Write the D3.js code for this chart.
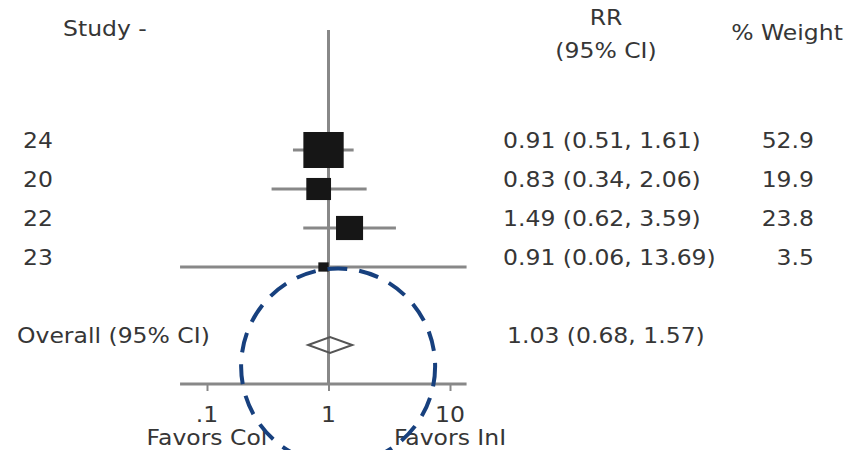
<!DOCTYPE html>
<html>
<head>
<meta charset="utf-8">
<script src="https://cdn.jsdelivr.net/npm/d3@7"></script>
<style>
  body { margin: 0; background: #fff; }
  text { font-family: "DejaVu Sans", sans-serif; fill: #363636; }
</style>
</head>
<body>
<div id="chart"></div>
<script>
const width = 868;
const height = 450;
const stretch = 1.12; // the source picture is a little wider than tall

// data
const studies = ["24", "20", "22", "23"];
const rr = [0.91, 0.83, 1.49, 0.91];
const lo = [0.51, 0.34, 0.62, 0.06];
const hi = [1.61, 2.06, 3.59, 13.69];
const weight = [52.9, 19.9, 23.8, 3.5];
const overall = {label: "Overall (95% CI)", rr: 1.03, lo: 0.68, hi: 1.57};
const tickValues = [0.1, 1, 10];
const tickLabels = [".1", "1", "10"];
const favors = ["Favors Col", "Favors InI"];

const fmt = d3.format(".2f");

const x = d3.scaleLog().domain([0.1, 10]).range([207, 450]);
// row index -> y
const y = d3.scaleLinear().domain([0, 3]).range([150, 267]);
const size = d3.scaleSqrt().domain([0, 52.9]).range([0, 36]);

const svg = d3.select("#chart").append("svg").attr("width", width).attr("height", height);

function label(str, px, py, anchor) {
    return svg.append("text")
        .attr("transform", `translate(${px},${py}) scale(${stretch},1)`)
        .attr("text-anchor", anchor || "start")
        .style("font-size", "21px")
        .text(str);
}

const grey = "#888";
const axisY = y(6);

//null line at 1
svg.append("line")
    .attr("x1", x(1)).attr("x2", x(1))
    .attr("y1", 30).attr("y2", axisY)
    .attr("stroke", grey).attr("stroke-width", 3);

// axis
const xAxis = d3.axisBottom(x)
    .tickValues(tickValues)
    .tickFormat((d, i) => tickLabels[i])
    .tickSize(7)
    .tickPadding(5);

const ax = svg.append("g")
    .attr("transform", `translate(0,${axisY})`)
    .call(xAxis);
ax.select(".domain").remove();
ax.selectAll(".tick line").attr("stroke", grey).attr("stroke-width", 2);
ax.selectAll(".tick text").remove();
tickValues.forEach((v, i) => label(tickLabels[i], x(v), axisY + 38, "middle"));

svg.append("line")
    .attr("x1", x(d3.min(lo))).attr("x2", x(d3.max(hi)))
    .attr("y1", axisY).attr("y2", axisY)
    .attr("stroke", grey).attr("stroke-width", 3);

// CI lines
svg.selectAll(".ci")
    .data(studies)
    .join("line")
    .attr("class", "ci")
    .attr("x1", (d, i) => x(lo[i]))
    .attr("x2", (d, i) => x(hi[i]))
    .attr("y1", (d, i) => y(i))
    .attr("y2", (d, i) => y(i))
    .attr("stroke", grey).attr("stroke-width", 3);

// boxes, area ~ weight
svg.selectAll(".box")
    .data(studies)
    .join("rect")
    .attr("class", "box")
    .attr("x", (d, i) => x(rr[i]) - size(weight[i]) * stretch / 2)
    .attr("y", (d, i) => y(i) - size(weight[i]) / 2)
    .attr("width", (d, i) => size(weight[i]) * stretch)
    .attr("height", (d, i) => size(weight[i]))
    .attr("fill", "#161616");

// overall diamond
const oy = y(5);
svg.append("path")
    .attr("d", `M${x(overall.lo)},${oy} L${x(overall.rr)},${oy - 8} L${x(overall.hi)},${oy} L${x(overall.rr)},${oy + 8} Z`)
    .attr("fill", "none")
    .attr("stroke", "#555")
    .attr("stroke-width", 2);

// headers
label("Study -", 63, 36);
label("RR", 606, 25, "middle");
label("(95% CI)", 606, 58, "middle");
label("% Weight", 787, 40, "middle");

// rows
studies.forEach((s, i) => {
    label(s, 23, y(i) - 2);
    label(`${fmt(rr[i])} (${fmt(lo[i])}, ${fmt(hi[i])})`, 503, y(i) - 2);
    label(weight[i].toFixed(1), 814, y(i) - 2, "end");
});
label(overall.label, 17, oy - 2);
label(`${fmt(overall.rr)} (${fmt(overall.lo)}, ${fmt(overall.hi)})`, 507, oy - 2);

// favors labels under the outer ticks
label(favors[0], x(0.1), 445, "middle");
label(favors[1], x(10), 445, "middle");

// dashed circle annotation
svg.append("ellipse")
    .attr("cx", x(1.2))
    .attr("cy", y(5.55))
    .attr("rx", 97)
    .attr("ry", 98)
    .attr("fill", "none")
    .attr("stroke", "#17407e")
    .attr("stroke-width", 4)
    .attr("stroke-dasharray", "20 12");
</script>
</body>
</html>
